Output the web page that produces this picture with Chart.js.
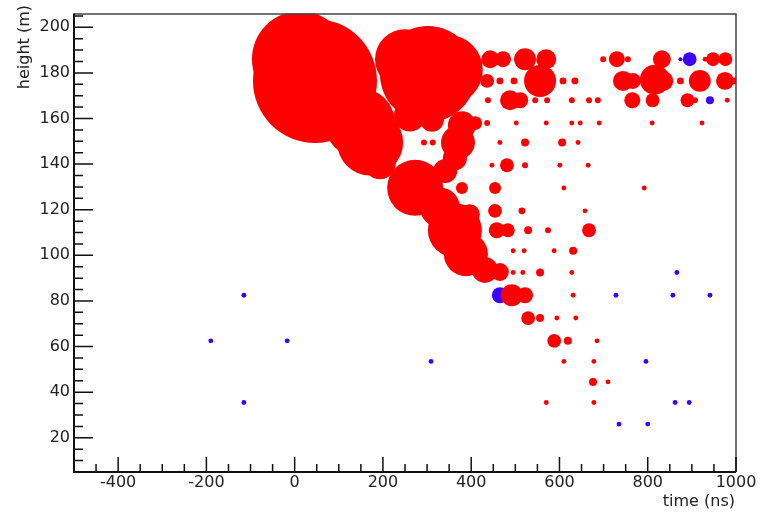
<!DOCTYPE html>
<html>
<head>
<meta charset="utf-8">
<script src="https://cdn.jsdelivr.net/npm/chart.js@4.4.1/dist/chart.umd.min.js"></script>
<style>
  html, body { margin: 0; padding: 0; background: #fff; }
  #wrap { width: 764px; height: 512px; }
</style>
</head>
<body>
<div id="wrap"><canvas id="chart" width="764" height="512"></canvas></div>
<script>
// hits: time (ns), height (m), charge (arb. units)
// red hits (first line: the big merged pulses near the shower front)
const redTime = [
  46, 12, 302, 347, 250, 148, 171, 261, 311, 370, 379, 363, 341, 193, 273, 329, 363, 388, 431, 465, 397,
  443, 472, 522, 570, 699, 730, 755, 832, 930, 948, 976,
  436, 465, 497, 556, 608, 635, 744, 766, 816, 835, 874, 918, 975, 998,
  438, 488, 511, 545, 572, 628, 667, 687, 765, 811, 890, 907, 980,
  409, 436, 502, 570, 628, 647, 690, 810, 923,
  293, 313, 465, 522, 606, 642,
  447, 481, 522, 601, 665,
  379, 454, 610, 792,
  454, 515, 658,
  458, 483, 529, 574, 667,
  495, 520, 588, 631,
  495, 517, 556, 628,
  492, 522, 631,
  529, 556, 594, 637,
  588, 619, 685,
  610, 678,
  676, 710,
  570, 678
];
const redHeight = [
  176.5, 186, 179.5, 181.3, 186, 158, 149.5, 161.3, 159.5, 149.5, 157, 142.6, 137, 140.4, 129.6, 121, 111, 100.5, 93.6, 92.7, 118,
  186, 186, 186, 186, 186, 186, 186, 186, 186, 186, 186,
  176.5, 176.5, 176.5, 176.5, 176.5, 176.5, 176.5, 176.5, 177, 176.5, 176.5, 176.5, 176.5, 176.5,
  168, 168, 168, 168, 168, 168, 168, 168, 168, 168, 168, 168, 168,
  158, 158, 158, 158, 158, 158, 158, 158, 158,
  149.5, 149.5, 149.5, 149.5, 149.5, 149.5,
  139.5, 139.5, 139.5, 139.5, 139.5,
  129.5, 129.5, 129.5, 129.5,
  119.5, 119.5, 119.5,
  111, 111, 111, 111, 111,
  102, 102, 102, 102,
  92.5, 92.5, 92.5, 92.5,
  82.5, 82.5, 82.5,
  72.5, 72.5, 72.5, 72.5,
  62.5, 62.5, 62.5,
  53.5, 53.5,
  44.5, 44.5,
  35.5, 35.5
];
const redCharge = [
  961, 576, 576, 306, 225, 306, 272, 64, 36, 72, 49, 36, 36, 64, 196, 100, 182, 121, 42, 20, 25,
  20, 16, 30, 25, 2.2, 16, 2.2, 20, 1.5, 12, 12,
  12, 3, 3, 64, 3, 3, 25, 16, 56, 25, 3, 30, 20, 3,
  2.2, 25, 16, 2.2, 2.2, 2.2, 2.2, 2.2, 16, 12, 12, 2.2, 1.5,
  12, 2.2, 1.5, 1.5, 1.5, 1.5, 1.5, 1.5, 1.5,
  2.2, 2.2, 1.5, 4, 4, 1.5,
  1.5, 12, 2.2, 1.5, 1.5,
  9, 9, 1.5, 1.5,
  12, 3, 1.5,
  16, 12, 4, 2.2, 12,
  1.5, 1.5, 1.5, 4,
  1.5, 1.5, 4, 1.5,
  30, 16, 1.5,
  12, 4, 1.5, 1.5,
  12, 4, 1.5,
  1.5, 1.5,
  4, 1.5,
  1.5, 1.5
];

// blue hits
const blueTime = [-190, -17, -115, -115, 309, 465, 728, 857, 941, 866, 796, 862, 894, 735, 800, 895, 874, 941];
const blueHeight = [62.5, 62.5, 82.5, 35.5, 53.5, 82.5, 82.5, 82.5, 82.5, 92.5, 53.5, 35.5, 35.5, 26, 26, 186, 186, 168];
const blueCharge = [1.5, 1.5, 1.5, 1.5, 1.5, 16, 1.5, 1.5, 1.5, 1.5, 1.5, 1.5, 1.5, 1.5, 1.5, 12, 1, 4];

const xTicks = [-400, -200, 0, 200, 400, 600, 800, 1000];
const yTicks = [20, 40, 60, 80, 100, 120, 140, 160, 180, 200];

const FONT = 'DejaVu Sans';

function toBubbles(times, heights, charges) {
  return times.map((t, i) => ({ x: t, y: heights[i], r: 2 * Math.sqrt(charges[i]) }));
}

// ROOT-like frame with inward ticks and axis titles
const frameAndTicks = {
  id: 'frameAndTicks',
  afterDraw(chart) {
    const ctx = chart.ctx;
    const a = chart.chartArea;
    const xs = chart.scales.x;
    const ys = chart.scales.y;
    ctx.save();

    // top and right border
    ctx.strokeStyle = '#444';
    ctx.lineWidth = 1.5;
    ctx.beginPath();
    ctx.moveTo(a.left, a.top + 0.5);
    ctx.lineTo(a.right, a.top + 0.5);
    ctx.lineTo(a.right, a.bottom);
    ctx.stroke();

    // axes
    ctx.strokeStyle = '#111';
    ctx.lineWidth = 2;
    ctx.beginPath();
    ctx.moveTo(a.left, a.top);
    ctx.lineTo(a.left, a.bottom);
    ctx.lineTo(a.right, a.bottom);
    ctx.stroke();

    ctx.lineWidth = 1.5;
    ctx.beginPath();
    for (let v = -450; v <= 1000; v += 50) {
      const px = xs.getPixelForValue(v);
      const len = v % 200 === 0 ? 15 : 8;
      ctx.moveTo(px, a.bottom);
      ctx.lineTo(px, a.bottom - len);
    }
    for (let v = 10; v <= 205; v += 5) {
      const py = ys.getPixelForValue(v);
      const len = v % 20 === 0 ? 19 : 9;
      ctx.moveTo(a.left, py);
      ctx.lineTo(a.left + len, py);
    }
    ctx.stroke();

    // axis titles
    ctx.fillStyle = '#222';
    ctx.font = '16px "' + FONT + '"';
    ctx.textAlign = 'right';
    ctx.textBaseline = 'middle';
    ctx.fillText('time (ns)', 735, 502);

    ctx.translate(25, 5);
    ctx.rotate(-Math.PI / 2);
    ctx.fillText('height (m)', 0, 0);
    ctx.restore();
  }
};

new Chart(document.getElementById('chart'), {
  type: 'bubble',
  data: {
    datasets: [
      {
        label: 'red',
        data: toBubbles(redTime, redHeight, redCharge),
        backgroundColor: '#ff0000',
        borderWidth: 0,
        clip: 0
      },
      {
        label: 'blue',
        data: toBubbles(blueTime, blueHeight, blueCharge),
        backgroundColor: 'rgb(60, 0, 255)',
        borderWidth: 0,
        clip: 0
      }
    ]
  },
  options: {
    responsive: false,
    devicePixelRatio: 1,
    animation: false,
    events: [],
    layout: {
      autoPadding: false,
      padding: { top: 9, right: 28, left: 0, bottom: 0 }
    },
    plugins: {
      legend: { display: false },
      tooltip: { enabled: false }
    },
    scales: {
      x: {
        type: 'linear',
        min: -500,
        max: 1000,
        afterBuildTicks: (s) => { s.ticks = xTicks.map(v => ({ value: v })); },
        afterFit: (s) => { s.height = 40; },
        grid: { display: false, drawTicks: false },
        border: { display: false },
        ticks: {
          padding: 1,
          color: '#222',
          font: { family: FONT, size: 16 },
          maxRotation: 0,
          callback: (v) => String(v)
        }
      },
      y: {
        type: 'linear',
        min: 5,
        max: 206,
        afterBuildTicks: (s) => { s.ticks = yTicks.map(v => ({ value: v })); },
        afterFit: (s) => { s.width = 74; },
        grid: { display: false, drawTicks: false },
        border: { display: false },
        ticks: {
          padding: 4,
          color: '#222',
          font: { family: FONT, size: 16 },
          callback: (v) => String(v)
        }
      }
    }
  },
  plugins: [frameAndTicks]
});
</script>
</body>
</html>
